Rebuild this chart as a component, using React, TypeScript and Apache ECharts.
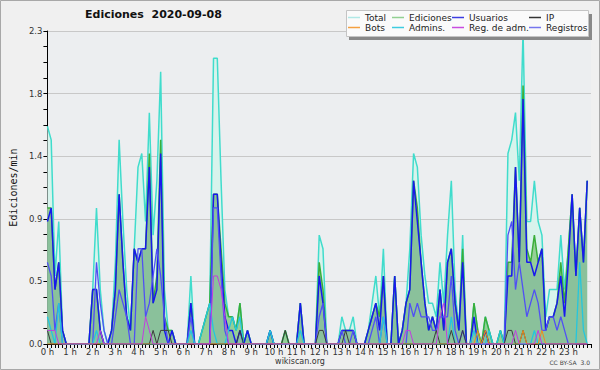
import React, { useEffect, useRef } from 'react';
import * as echarts from 'echarts';

// 10-minute bins over the day (minutes since 00:00)
const minutes = Array.from({ length: 144 }, (_, i) => i * 10);

const yTicksMax = 2.3;
const yTickStep = 0.46;

const total = [
  1.6, 1.5, 0.5, 0.9, 0.1, 0,
  0, 0, 0, 0, 0, 0,
  0.4, 1.0, 0.4, 0.1, 0, 0.1,
  0.6, 1.5, 0.9, 0.4, 0.1, 0.7,
  1.3, 1.4, 0.9, 1.7, 0.8, 1.2,
  2.0, 0.4, 0.1, 0.1, 0, 0,
  0, 0, 0.5, 0, 0, 0.1,
  0.2, 0.3, 2.1, 2.1, 1.2, 0.4,
  0.2, 0.2, 0.1, 0.3, 0, 0.1,
  0, 0, 0, 0, 0, 0.1,
  0, 0, 0, 0.1, 0, 0,
  0, 0.3, 0, 0, 0, 0,
  0.8, 0.7, 0, 0, 0, 0,
  0.2, 0.1, 0.1, 0.2, 0, 0,
  0, 0.1, 0.3, 0.5, 0.2, 0.7,
  0, 0, 0.5, 0, 0.1, 0.3,
  0.7, 1.4, 1.3, 0.8, 0.5, 0.3,
  0.3, 0.2, 0.6, 0.3, 0.8, 1.2,
  0.4, 0.1, 0.8, 0, 0, 0.3,
  0.1, 0, 0.2, 0.1, 0, 0,
  0.1, 0, 1.4, 1.5, 1.7, 1.2,
  2.3, 0.9, 0.9, 1.2, 0.9, 0.8,
  0.2, 0.4, 0.4, 0.4, 0.8, 0.4,
  0.7, 1.1, 0.5, 1.0, 0.6, 1.2,
];

const ediciones = [
  1.0, 1.0, 0.4, 0.6, 0.1, 0,
  0, 0, 0, 0, 0, 0,
  0.4, 0.4, 0.1, 0, 0, 0.1,
  0.4, 1.1, 0.6, 0.2, 0.1, 0.7,
  0.6, 0.7, 0.7, 1.4, 0.3, 0.5,
  1.5, 0.2, 0.1, 0.1, 0, 0,
  0, 0, 0.3, 0, 0, 0.1,
  0.2, 0.3, 1.1, 1.1, 0.7, 0.3,
  0.2, 0.2, 0.1, 0.3, 0, 0.1,
  0, 0, 0, 0, 0, 0.1,
  0, 0, 0, 0.1, 0, 0,
  0, 0.3, 0, 0, 0, 0,
  0.6, 0.4, 0, 0, 0, 0,
  0.1, 0.1, 0.1, 0.1, 0, 0,
  0, 0.1, 0.2, 0.3, 0.2, 0.5,
  0, 0, 0.5, 0, 0.1, 0.3,
  0.4, 1.2, 1.0, 0.6, 0.3, 0.1,
  0.2, 0.1, 0.4, 0.1, 0.6, 0.7,
  0.3, 0.1, 0.7, 0, 0, 0.3,
  0.1, 0, 0.2, 0.1, 0, 0,
  0.1, 0, 0.6, 0.6, 1.3, 0.6,
  1.9, 0.7, 0.6, 0.8, 0.6, 0.7,
  0.1, 0.2, 0.2, 0.3, 0.6, 0.3,
  0.7, 1.1, 0.5, 1.0, 0.6, 1.2,
];

const usuarios = [
  0.9, 1.0, 0.4, 0.6, 0.1, 0,
  0, 0, 0, 0, 0, 0,
  0.4, 0.4, 0.1, 0, 0, 0.1,
  0.4, 1.1, 0.6, 0.2, 0.1, 0.7,
  0.6, 0.7, 0.7, 1.3, 0.3, 0.4,
  1.4, 0.1, 0, 0.1, 0, 0,
  0, 0, 0.3, 0, 0, 0,
  0, 0, 1.1, 1.1, 0.6, 0.2,
  0.1, 0.1, 0, 0.1, 0, 0.1,
  0, 0, 0, 0, 0, 0.1,
  0, 0, 0, 0, 0, 0,
  0, 0.3, 0, 0, 0, 0,
  0.5, 0.3, 0, 0, 0, 0,
  0.1, 0.1, 0.1, 0.1, 0, 0,
  0, 0.1, 0.2, 0.3, 0.1, 0.5,
  0, 0, 0.5, 0, 0.1, 0.3,
  0.4, 1.2, 0.9, 0.6, 0.3, 0.1,
  0.2, 0.1, 0.4, 0.1, 0.6, 0.7,
  0.3, 0.1, 0.6, 0, 0, 0.2,
  0, 0, 0.1, 0, 0, 0,
  0, 0, 0.5, 0.5, 1.3, 0.6,
  1.8, 0.6, 0.6, 0.5, 0.6, 0.7,
  0.1, 0.2, 0.2, 0.3, 0.5, 0.2,
  0.6, 1.1, 0.5, 1.0, 0.6, 1.2,
];

const ip = [
  0.1, 0, 0, 0, 0, 0,
  0, 0, 0, 0, 0, 0,
  0, 0, 0, 0, 0, 0,
  0, 0, 0, 0, 0, 0,
  0, 0, 0, 0, 0.1, 0,
  0.1, 0.1, 0.1, 0, 0, 0,
  0, 0, 0, 0, 0, 0,
  0, 0, 0, 0, 0, 0,
  0, 0, 0, 0.1, 0, 0,
  0, 0, 0, 0, 0, 0,
  0, 0, 0, 0.1, 0, 0,
  0, 0, 0, 0, 0, 0,
  0.1, 0.1, 0, 0, 0, 0,
  0, 0.1, 0, 0, 0, 0,
  0, 0, 0, 0, 0, 0,
  0, 0, 0, 0, 0, 0,
  0, 0, 0, 0, 0, 0,
  0, 0.1, 0, 0, 0, 0.1,
  0, 0, 0.1, 0, 0, 0,
  0, 0, 0.1, 0, 0, 0,
  0, 0, 0.1, 0.1, 0, 0,
  0.1, 0, 0, 0, 0, 0,
  0, 0, 0, 0, 0, 0,
  0, 0, 0, 0, 0, 0,
];

const bots = [
  0, 0, 0, 0, 0, 0,
  0, 0, 0, 0, 0, 0,
  0, 0, 0, 0, 0, 0,
  0, 0, 0, 0, 0, 0,
  0, 0, 0, 0, 0, 0,
  0, 0, 0, 0, 0, 0,
  0, 0, 0, 0, 0, 0,
  0, 0, 0, 0, 0, 0,
  0, 0, 0, 0, 0, 0,
  0, 0, 0, 0, 0, 0,
  0, 0, 0, 0, 0, 0,
  0, 0, 0, 0, 0, 0,
  0, 0, 0, 0, 0, 0,
  0, 0, 0, 0, 0, 0,
  0, 0, 0, 0, 0, 0,
  0, 0, 0, 0, 0, 0,
  0, 0, 0, 0, 0, 0,
  0, 0, 0, 0, 0, 0,
  0, 0, 0, 0, 0, 0,
  0.1, 0, 0.1, 0, 0, 0,
  0, 0, 0, 0, 0, 0,
  0.1, 0, 0, 0, 0, 0.1,
  0, 0, 0, 0, 0, 0,
  0, 0, 0, 0, 0, 0,
];

const admins = [
  0.2, 0.1, 0, 0.3, 0, 0,
  0, 0, 0, 0, 0, 0,
  0, 0.1, 0, 0, 0, 0,
  0, 0, 0, 0, 0, 0,
  0, 0, 0, 0, 0, 0,
  0, 0, 0, 0, 0, 0,
  0, 0, 0.1, 0, 0, 0.1,
  0.2, 0.3, 0.1, 0, 0, 0,
  0.1, 0.2, 0.1, 0.2, 0, 0,
  0, 0, 0, 0, 0, 0.1,
  0, 0, 0, 0, 0, 0,
  0, 0.1, 0, 0, 0, 0,
  0, 0, 0, 0, 0, 0,
  0, 0, 0, 0, 0, 0,
  0, 0, 0, 0, 0, 0.2,
  0, 0, 0, 0, 0, 0,
  0, 0, 0, 0, 0, 0,
  0, 0, 0, 0, 0, 0.2,
  0, 0, 0, 0, 0, 0.1,
  0, 0, 0, 0.1, 0, 0,
  0.1, 0, 0, 0, 0, 0,
  0, 0, 0, 0.1, 0, 0,
  0, 0, 0, 0, 0, 0,
  0, 0, 0, 0.6, 0.1, 0,
];

const regAdm = [
  0.1, 0.1, 0.1, 0, 0, 0,
  0, 0, 0, 0, 0, 0,
  0, 0, 0.1, 0, 0, 0,
  0, 0, 0, 0, 0, 0,
  0, 0, 0.2, 0.1, 0, 0,
  0, 0, 0, 0, 0, 0,
  0, 0, 0, 0, 0, 0,
  0, 0, 0.5, 0.5, 0.4, 0.2,
  0, 0, 0, 0, 0, 0,
  0, 0, 0, 0, 0, 0,
  0, 0, 0, 0, 0, 0,
  0, 0, 0, 0, 0, 0,
  0, 0, 0, 0, 0, 0,
  0, 0, 0, 0, 0, 0,
  0, 0, 0, 0, 0, 0,
  0, 0, 0, 0, 0, 0.1,
  0.1, 0, 0, 0, 0, 0,
  0, 0, 0.2, 0.3, 0, 0,
  0, 0, 0, 0, 0, 0,
  0, 0, 0, 0, 0, 0,
  0, 0, 0, 0, 0.1, 0,
  0, 0, 0, 0, 0.1, 0,
  0, 0, 0, 0, 0, 0,
  0, 0, 0, 0, 0, 0,
];

const registros = [
  0.6, 0.5, 0.1, 0.3, 0, 0,
  0, 0, 0, 0, 0, 0,
  0, 0.6, 0.3, 0.1, 0, 0,
  0.2, 0.4, 0.3, 0.2, 0, 0,
  0.7, 0.7, 0.2, 0.3, 0.5, 0.7,
  0.5, 0.2, 0, 0, 0, 0,
  0, 0, 0.2, 0, 0, 0,
  0, 0, 1.0, 1.0, 0.5, 0.1,
  0, 0, 0, 0, 0, 0,
  0, 0, 0, 0, 0, 0,
  0, 0, 0, 0, 0, 0,
  0, 0, 0, 0, 0, 0,
  0.2, 0.3, 0, 0, 0, 0,
  0.1, 0, 0, 0.1, 0, 0,
  0, 0, 0.1, 0.2, 0, 0.2,
  0, 0, 0, 0, 0, 0,
  0.3, 0.2, 0.3, 0.2, 0.2, 0.2,
  0.1, 0.1, 0.2, 0.2, 0.2, 0.5,
  0.1, 0, 0.1, 0, 0, 0,
  0, 0, 0, 0, 0, 0,
  0, 0, 0.8, 0.9, 0.4, 0.6,
  0.4, 0.2, 0.3, 0.4, 0.3, 0.1,
  0.1, 0.2, 0.2, 0.1, 0.2, 0.1,
  0, 0, 0, 0, 0, 0,
];

type Def = {
  name: string;
  data: number[];
  line: string;
  width: number;
  area?: string;
  legend: string;
  lx: number;
  row: number;
};

const defs: Def[] = [
  { name: 'Total', data: total, line: '#40dccc', width: 1.5, area: '#d8f3ec', legend: '#b0e8e6', lx: 348, row: 0 },
  { name: 'Ediciones', data: ediciones, line: '#3aae3a', width: 1.5, area: '#95cf97', legend: '#92d092', lx: 392, row: 0 },
  { name: 'Usuarios', data: usuarios, line: '#1818ee', width: 1.5, area: 'rgba(64,96,192,0.12)', legend: '#3c3ce2', lx: 452, row: 0 },
  { name: 'Registros', data: registros, line: '#5050f4', width: 1.3, legend: '#7676ee', lx: 529, row: 1 },
  { name: 'Admins.', data: admins, line: '#24c6de', width: 1.3, legend: '#3ecce0', lx: 392, row: 1 },
  { name: 'IP', data: ip, line: '#3c3c3c', width: 1, legend: '#333333', lx: 529, row: 0 },
  { name: 'Bots', data: bots, line: '#f08c1c', width: 1, legend: '#f5a040', lx: 348, row: 1 },
  { name: 'Reg. de adm.', data: regAdm, line: '#c23ce0', width: 1, legend: '#c84ce0', lx: 452, row: 1 },
];

export default function App() {
  const ref = useRef<HTMLDivElement>(null);
  useEffect(() => {
    if (!ref.current) return;
    const chart = echarts.init(ref.current, null, { renderer: 'svg' });
    const font = 'DejaVu Sans';
    const series = defs.map((d) => ({
      name: d.name,
      type: 'line',
      data: d.data.map((v, i) => [minutes[i], v]),
      symbol: 'none',
      color: d.line,
      lineStyle: { color: d.line, width: d.width },
      areaStyle: d.area ? { color: d.area, opacity: 1 } : undefined,
      emphasis: { disabled: true },
    }));
    const legends = defs.map((d) => ({
      data: [{ name: d.name, itemStyle: { color: d.legend } }],
      left: d.lx,
      top: d.row === 0 ? 13 : 23,
      orient: 'horizontal',
      icon: 'rect',
      itemWidth: 12,
      itemHeight: 1.5,
      padding: 0,
      selectedMode: false,
      z: 12,
      textStyle: { fontFamily: font, fontSize: 9, color: '#222', padding: [0, 0, 0, 0] },
    }));
    chart.setOption({
      animation: false,
      backgroundColor: '#f0f0f0',
      title: {
        text: 'Ediciones  2020-09-08',
        left: 85,
        top: 9,
        padding: 0,
        textStyle: { fontFamily: font, fontSize: 11, fontWeight: 'bold', color: '#111' },
      },
      legend: legends,
      grid: {
        left: 46,
        right: 9,
        top: 31,
        bottom: 26,
        show: true,
        backgroundColor: '#eceef0',
        borderWidth: 0,
      },
      xAxis: {
        type: 'value',
        min: 0,
        max: 1440,
        interval: 60,
        axisLine: { lineStyle: { color: '#000', width: 1 } },
        axisTick: { show: true, length: 4, lineStyle: { color: '#000' } },
        minorTick: { show: true, splitNumber: 6, length: 4, lineStyle: { color: '#000' } },
        splitLine: { show: false },
        axisLabel: {
          fontFamily: font,
          fontSize: 8.5,
          color: '#333',
          margin: 3,
          formatter: (v: number) => (v >= 1440 ? '' : `${v / 60} h`),
        },
      },
      yAxis: {
        type: 'value',
        min: 0,
        max: yTicksMax,
        interval: yTickStep,
        name: 'Ediciones/min',
        nameLocation: 'middle',
        nameGap: 28,
        nameTextStyle: { fontFamily: 'DejaVu Sans Mono', fontSize: 10, color: '#111' },
        axisLine: { show: true, lineStyle: { color: '#000', width: 1 } },
        axisTick: { show: true, length: 4, lineStyle: { color: '#000' } },
        minorTick: { show: true, splitNumber: 4, length: 4, lineStyle: { color: '#000' } },
        splitLine: { show: true, lineStyle: { color: '#c8c8c8', width: 1 } },
        axisLabel: {
          fontFamily: font,
          fontSize: 8.5,
          color: '#333',
          margin: 5,
          formatter: (v: number) => v.toFixed(1),
        },
      },
      graphic: [
        {
          type: 'rect',
          z: -10,
          silent: true,
          shape: { x: 0.5, y: 0.5, width: 599, height: 369 },
          style: { fill: 'none', stroke: '#a8a8a8', lineWidth: 1 },
        },
        {
          type: 'rect',
          z: 10,
          silent: true,
          shape: { x: 349, y: 14, width: 243, height: 26 },
          style: { fill: '#888888' },
        },
        {
          type: 'rect',
          z: 10,
          silent: true,
          shape: { x: 346.5, y: 10.5, width: 242, height: 26 },
          style: { fill: '#fafafa', stroke: '#c4c4c4', lineWidth: 1 },
        },
        {
          type: 'text',
          silent: true,
          x: 300,
          y: 361,
          style: {
            text: 'wikiscan.org',
            fontFamily: font,
            fontSize: 8,
            fill: '#333',
            align: 'center',
            verticalAlign: 'middle',
          },
        },
        {
          type: 'text',
          silent: true,
          x: 590,
          y: 362,
          style: {
            text: 'CC BY-SA  3.0',
            fontFamily: font,
            fontSize: 6,
            fill: '#444',
            align: 'right',
            verticalAlign: 'middle',
          },
        },
      ],
      series,
    });
    return () => chart.dispose();
  }, []);
  return (
    <div
      ref={ref}
      style={{ position: 'fixed', left: 0, top: 0, width: 600, height: 370 }}
    />
  );
}
